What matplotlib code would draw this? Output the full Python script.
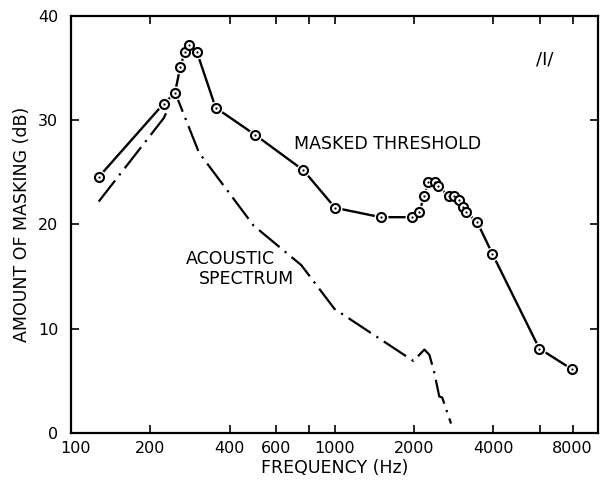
import matplotlib
matplotlib.use("Agg")
import matplotlib.pyplot as plt
import matplotlib.transforms as mtransforms
from matplotlib.ticker import FixedLocator, FixedFormatter, NullLocator

# Masked threshold (circles)
mt_freq = [128, 225, 248, 260, 270, 281, 301, 354, 500, 762, 1005, 1496, 1970,
           2092, 2192, 2260, 2408, 2474, 2717, 2848, 2954, 3066, 3150, 3482,
           3968, 5980, 7970]
mt_db = [24.6, 31.6, 32.6, 35.1, 36.5, 37.2, 36.5, 31.2, 28.6, 25.2, 21.6, 20.7,
         20.7, 21.2, 22.7, 24.1, 24.1, 23.7, 22.7, 22.7, 22.3, 21.7, 21.2, 20.2,
         17.2, 8.1, 6.1]

# Acoustic spectrum (dash-dot)
ac_freq = [127.5, 225, 249, 306, 493, 748, 1000, 1993, 2192, 2290, 2390, 2497,
           2562, 2767]
ac_db = [22.2, 30.2, 32.6, 26.9, 19.9, 16.1, 11.9, 6.9, 8.0, 7.5, 5.8, 3.5,
         3.4, 0.9]

x_ticks = [100, 200, 400, 600, 800, 1000, 2000, 4000, 6000, 8000]
x_tick_labels = ["100", "200", "400", "600", "", "1000", "2000", "4000", "", "8000"]
y_ticks = [0, 10, 20, 30, 40]

fig = plt.figure(figsize=(6.06, 4.92), dpi=100)
ax = fig.add_axes([0.117, 0.120, 0.870, 0.8475])

ax.plot(ac_freq, ac_db, color="black", lw=1.6,
        linestyle=(0, (12, 3, 1, 3)), solid_capstyle="butt")
ax.plot(mt_freq, mt_db, color="black", lw=1.7)
ax.plot(mt_freq, mt_db, linestyle="none", marker="o", ms=10,
        mfc="white", mec="white", mew=0)
ax.plot(mt_freq, mt_db, linestyle="none", marker="o", ms=6.5,
        mfc="white", mec="black", mew=1.5)
ax.plot(mt_freq, mt_db, linestyle="none", marker="o", ms=1.6,
        mfc="black", mec="black", mew=0)

ax.set_xscale("log")
ax.set_xlim(100, 10000)
ax.set_ylim(0, 40)
ax.xaxis.set_major_locator(FixedLocator(x_ticks))
ax.xaxis.set_major_formatter(FixedFormatter(x_tick_labels))
ax.xaxis.set_minor_locator(NullLocator())
ax.set_yticks(y_ticks)
ax.set_yticklabels([str(v) for v in y_ticks])

ax.tick_params(which="both", direction="in", top=True, right=True,
               length=6, width=1.2, labelsize=11.5)
ax.tick_params(axis="x", pad=6)
ax.tick_params(axis="y", pad=9)
for s in ax.spines.values():
    s.set_linewidth(1.6)

# nudge the "100" label right so it clears the "0" label
first = ax.xaxis.get_major_ticks()[0].label1
first.set_transform(first.get_transform() +
                    mtransforms.ScaledTranslation(0.05, 0, fig.dpi_scale_trans))

ax.set_xlabel("FREQUENCY (Hz)", fontsize=12.5, labelpad=2)
ax.set_ylabel("AMOUNT OF MASKING (dB)", fontsize=12.5, labelpad=5)

ax.text(700, 27.7, "MASKED THRESHOLD", fontsize=12.5, ha="left", va="center")
ax.text(273, 16.7, "ACOUSTIC", fontsize=12.5, ha="left", va="center")
ax.text(305, 14.8, "SPECTRUM", fontsize=12.5, ha="left", va="center")
ax.text(6300, 35.8, "/I/", fontsize=13, ha="center", va="center")

fig.savefig("out.png", dpi=100)
